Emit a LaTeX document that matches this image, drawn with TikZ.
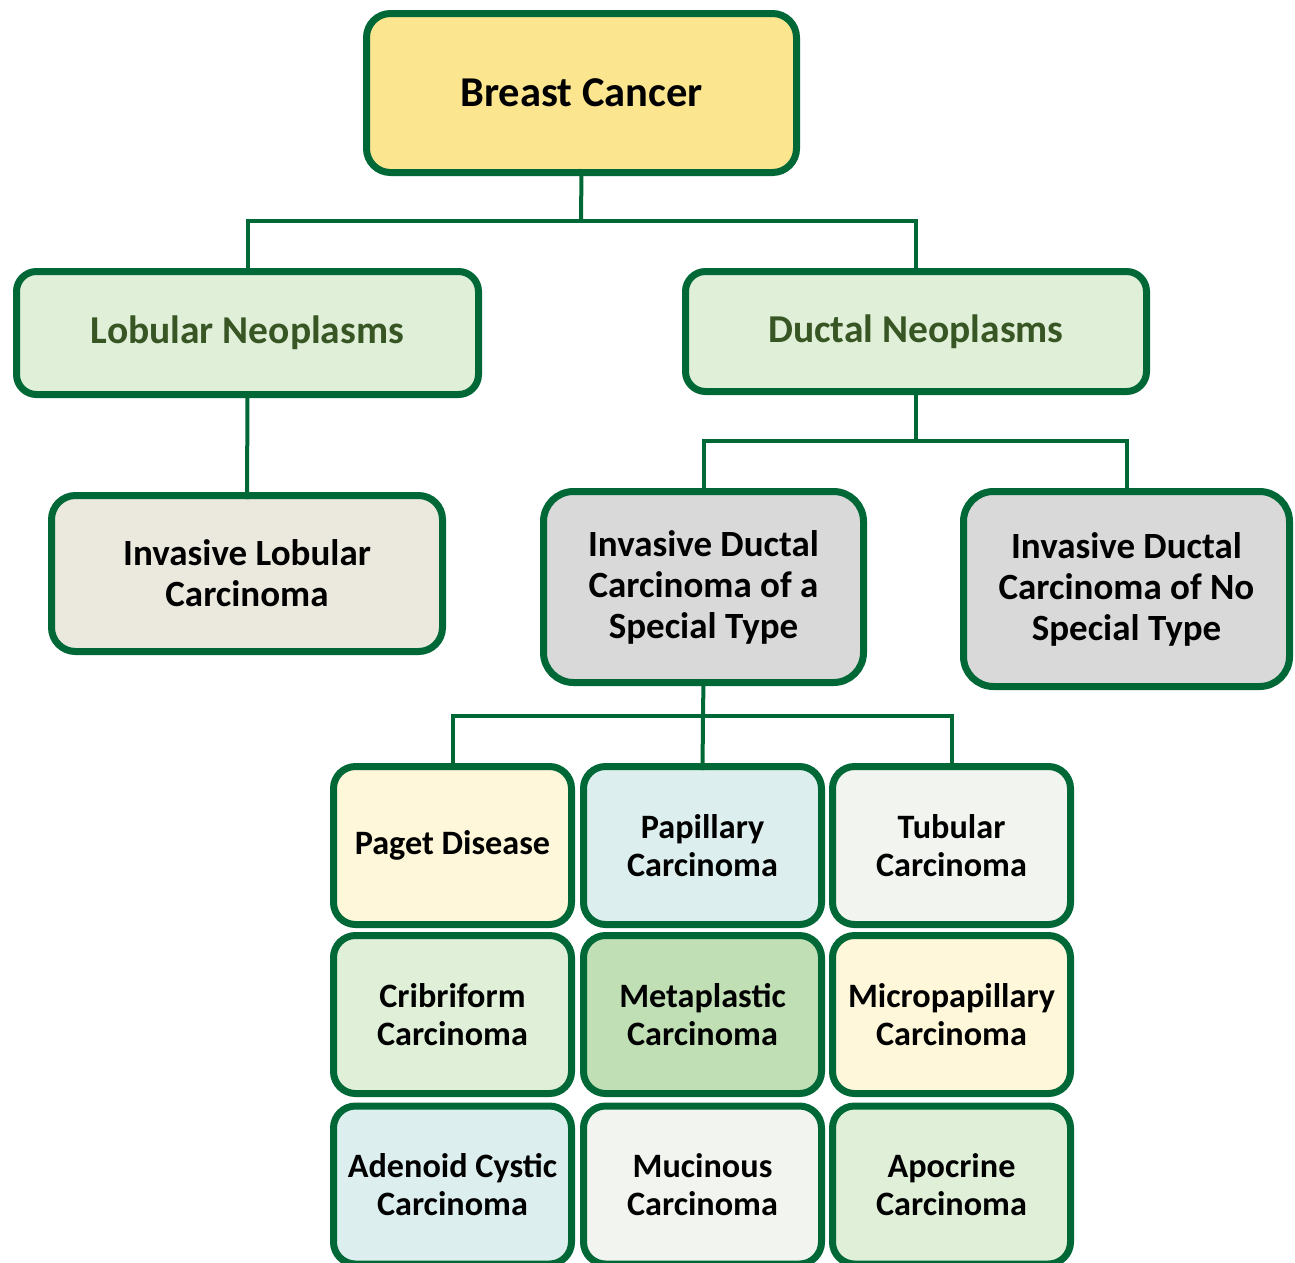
\documentclass[tikz,border=0pt]{standalone}
\usepackage{fontspec}
\setmainfont{Carlito}
\definecolor{bord}{RGB}{0,104,55}
\definecolor{ylw}{RGB}{251,230,143}
\definecolor{lgreen}{RGB}{224,239,216}
\definecolor{dgtext}{RGB}{55,86,35}
\definecolor{beige}{RGB}{235,233,222}
\definecolor{gry}{RGB}{217,217,217}
\definecolor{cream}{RGB}{254,247,218}
\definecolor{lblue}{RGB}{221,238,238}
\definecolor{offw}{RGB}{242,244,239}
\definecolor{mgreen}{RGB}{192,223,181}
\begin{document}
\begin{tikzpicture}[x=1pt,y=-1pt,
  box/.style={draw=bord, line width=7pt, rounded corners=24pt, align=center,
    font=\bfseries\fontsize{37}{41}\selectfont, inner sep=0pt, outer sep=0pt},
  cell/.style={box, minimum width=238pt, minimum height=158pt, rounded corners=22pt,
    font=\bfseries\fontsize{34.2}{38}\selectfont},
  conn/.style={draw=bord, line width=4pt}]
\useasboundingbox (0,0) rectangle (1295,1262);
\clip (0,0) rectangle (1295,1262);
\coordinate (j1) at (581,221);
\coordinate (j2) at (916,441);
\coordinate (j3) at (703,716);
\node[box, fill=ylw, minimum width=430pt, minimum height=159pt, font=\bfseries\fontsize{42.5}{48}\selectfont] (bc) at (581.5,93) {Breast Cancer};
\node[box, fill=lgreen, text=dgtext, minimum width=462pt, minimum height=123pt, rounded corners=20pt, font=\bfseries\fontsize{39.5}{44}\selectfont] (lob) at (247.5,333) {Lobular Neoplasms};
\node[box, fill=lgreen, text=dgtext, minimum width=461pt, minimum height=120pt, rounded corners=20pt, font=\bfseries\fontsize{39.5}{44}\selectfont] (duc) at (916,331.5) {Ductal Neoplasms};
\node[box, fill=beige, minimum width=391pt, minimum height=156pt] (ilc) at (247,573.5) {Invasive Lobular\\Carcinoma};
\node[box, fill=gry, minimum width=320pt, minimum height=191pt, rounded corners=30pt] (ids) at (703.5,587) {Invasive Ductal\\Carcinoma of a\\Special Type};
\node[box, fill=gry, minimum width=326pt, minimum height=195pt, rounded corners=30pt] (idn) at (1126.5,589) {Invasive Ductal\\Carcinoma of No\\Special Type};
\node[cell, fill=cream] (pag) at (452.5,845.5) {Paget Disease};
\node[cell, fill=lblue] (pap) at (702.5,845.5) {Papillary\\Carcinoma};
\node[cell, fill=offw] (tub) at (951.5,845.5) {Tubular\\Carcinoma};
\node[cell, fill=lgreen] (cri) at (452.5,1014.5) {Cribriform\\Carcinoma};
\node[cell, fill=mgreen] (met) at (702.5,1014.5) {Metaplastic\\Carcinoma};
\node[cell, fill=cream] (mic) at (951.5,1014.5) {Micropapillary\\Carcinoma};
\node[cell, fill=lblue] (ade) at (452.5,1185) {Adenoid Cystic\\Carcinoma};
\node[cell, fill=offw] (muc) at (702.5,1185) {Mucinous\\Carcinoma};
\node[cell, fill=lgreen] (apo) at (951.5,1185) {Apocrine\\Carcinoma};
\draw[conn] ([yshift=3.5pt]bc.south) -- (j1);
\draw[conn] (j1) -| ([yshift=-3.5pt]lob.north);
\draw[conn] (j1) -| ([yshift=-3.5pt]duc.north);
\draw[conn] ([yshift=3.5pt]lob.south) -- ([yshift=-3.5pt]ilc.north);
\draw[conn] ([yshift=3.5pt]duc.south) -- (j2);
\draw[conn] (j2) -| ([yshift=-3.5pt]ids.north);
\draw[conn] (j2) -| ([yshift=-3.5pt]idn.north);
\draw[conn] ([yshift=3.5pt]ids.south) -- (j3);
\draw[conn] (j3) -| ([yshift=-3.5pt]pag.north);
\draw[conn] (j3) -- ([yshift=-3.5pt]pap.north);
\draw[conn] (j3) -| ([yshift=-3.5pt]tub.north);
\end{tikzpicture}
\end{document}
